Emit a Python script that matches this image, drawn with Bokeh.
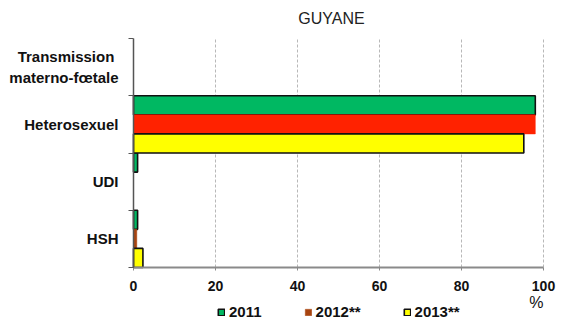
import numpy as np
from bokeh.plotting import figure
from bokeh.models import (ColumnDataSource, Range1d, FixedTicker, Label,
                          Legend, LegendItem)
from bokeh.embed import file_html
from bokeh.resources import INLINE

# Transmission groups, top to bottom
categories = ["Transmission\u00a0\nmaterno-fœtale", "Heterosexuel", "UDI", "HSH"]
years = ["2011", "2012**", "2013**"]

# Share of cases (%) per group
v2011 = [0.0, 98.0, 1.0, 1.0]
v2012 = [0.0, 98.0, 0.0, 0.8]
v2013 = [0.0, 95.2, 0.0, 2.3]

x_ticks = [0, 20, 40, 60, 80, 100]

FONT = "Liberation Sans"
W, H = 584, 322
PLOT_LEFT, PLOT_RIGHT = 133, 543         # pixel columns of the bar area
PLOT_TOP, PLOT_BOTTOM = 38, 267          # pixel rows of the bar area
n = len(categories)
centers = np.arange(n)[::-1] + 0.5       # band centres, first group on top
band = 1.0 / 3.0

# the frame covers the whole canvas; the bar area is x in [0, 100], y in [0, n]
px_x = (PLOT_RIGHT - PLOT_LEFT) / 100.0
px_y = (PLOT_BOTTOM - PLOT_TOP) / n
x_lo, x_hi = -PLOT_LEFT / px_x, 100 + (W - PLOT_RIGHT) / px_x
y_lo, y_hi = -(H - PLOT_BOTTOM) / px_y, n + PLOT_TOP / px_y

p = figure(width=W, height=H, output_backend="svg", toolbar_location=None,
           x_range=Range1d(x_lo, x_hi), y_range=Range1d(y_lo, y_hi),
           min_border_left=0, min_border_right=0,
           min_border_top=0, min_border_bottom=0)
p.title.visible = False
p.outline_line_color = None
p.background_fill_color = "white"
p.border_fill_color = "white"

series = [
    (v2011, +band, ["#00B862"] * n, "#111111"),
    (v2012, 0.0, ["#FF2200", "#FF2200", "#A8440F", "#A8440F"], None),
    (v2013, -band, ["#FFFF00"] * n, "#111111"),
]

renderers = []
for vals, off, cols, edge in series:
    keep = [i for i in range(n) if vals[i] > 0]
    src = ColumnDataSource(dict(
        y=[centers[i] + off for i in keep],
        right=[vals[i] for i in keep],
        color=[cols[i] for i in keep],
    ))
    r = p.hbar(y="y", left=0, right="right", height=band, source=src,
               fill_color="color",
               line_color="#111111" if edge else "color",
               line_width=1.6 if edge else 0.5)
    renderers.append(r)

# x axis drawn along y = 0
xa = p.xaxis[0]
xa.fixed_location = 0
xa.bounds = (0, 100)
xa.ticker = FixedTicker(ticks=x_ticks, minor_ticks=[])
xa.axis_line_color = "#8a8a8a"
xa.axis_line_width = 2
xa.major_tick_line_color = "#8a8a8a"
xa.major_tick_in = 0
xa.major_tick_out = 3
xa.major_label_standoff = 10
xa.major_label_text_font = FONT
xa.major_label_text_font_style = "bold"
xa.major_label_text_font_size = "14px"
xa.major_label_text_color = "#111111"

# y axis along x = 0: labels at band centres, ticks at band edges
ya = p.yaxis[0]
ya.fixed_location = 0
ya.bounds = (0, n)
ya.ticker = FixedTicker(ticks=list(centers), minor_ticks=list(range(n + 1)))
ya.major_label_overrides = {float(c): lab for c, lab in zip(centers, categories)}
ya.axis_line_color = "#555555"
ya.axis_line_width = 1.5
ya.major_tick_in = 0
ya.major_tick_out = 0
ya.minor_tick_in = 0
ya.minor_tick_out = 5
ya.minor_tick_line_color = "#555555"
ya.major_label_standoff = 10
ya.major_label_text_font = FONT
ya.major_label_text_font_style = "bold"
ya.major_label_text_font_size = "15px"
ya.major_label_text_color = "#111111"
ya.major_label_text_align = "right"

# vertical dashed grid, limited to the bar area
p.ygrid.grid_line_color = None
xg = p.xgrid[0]
xg.ticker = FixedTicker(ticks=x_ticks[1:])
xg.grid_line_color = "#b8b8b8"
xg.grid_line_dash = "3 2"
xg.grid_line_width = 1
if "cross_bounds" in xg.properties():
    xg.cross_bounds = (0, n)
else:
    xg.grid_line_color = None
    p.segment(x0=x_ticks[1:], y0=0, x1=x_ticks[1:], y1=n,
              line_color="#b8b8b8", line_dash="3 2", line_width=1)

# title and unit
p.add_layout(Label(x=331, y=H - 18, x_units="screen", y_units="screen",
                   text="GUYANE", text_font=FONT, text_font_size="16px",
                   text_color="#222222", text_align="center",
                   text_baseline="middle"))
p.add_layout(Label(x=100, y=H - 302, y_units="screen", x_offset=0,
                   text="%", text_font=FONT, text_font_size="16px",
                   text_color="#111111", text_align="right",
                   text_baseline="middle"))

legend = Legend(items=[
    LegendItem(label=years[0], renderers=[renderers[0]], index=0),
    LegendItem(label=years[1], renderers=[renderers[1]], index=1),
    LegendItem(label=years[2], renderers=[renderers[2]], index=0),
], orientation="horizontal", location=(217, 2))
legend.border_line_color = None
legend.background_fill_alpha = 0
legend.padding = 0
legend.margin = 0
legend.spacing = 42
legend.glyph_width = 8
legend.glyph_height = 8
legend.label_standoff = 4
legend.label_height = 16
legend.label_text_font = FONT
legend.label_text_font_style = "bold"
legend.label_text_font_size = "15px"
legend.label_text_color = "#111111"
p.add_layout(legend, "center")

open("out.html", "w").write(file_html(p, INLINE))
